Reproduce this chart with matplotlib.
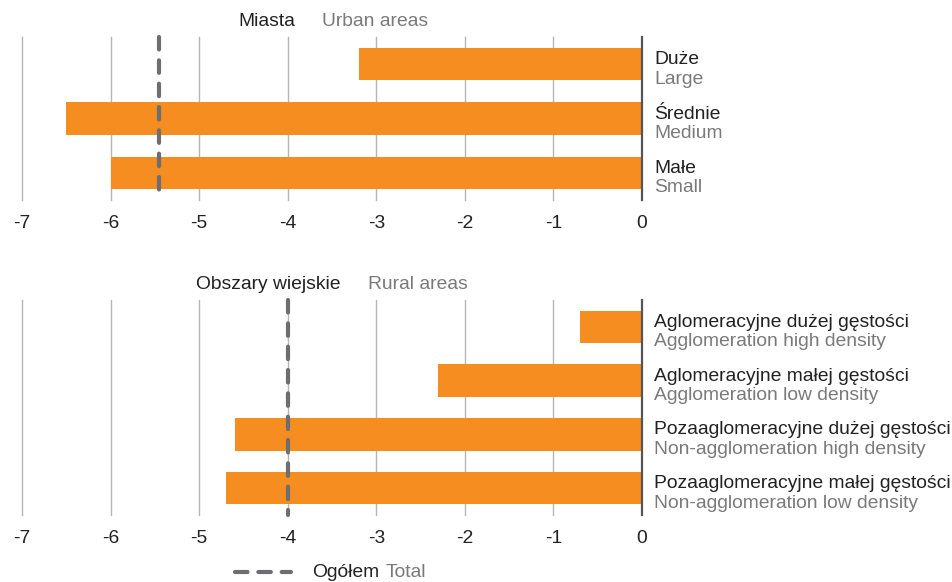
import matplotlib
matplotlib.use("Agg")
import matplotlib.pyplot as plt
from matplotlib.lines import Line2D
from matplotlib.transforms import ScaledTranslation

plt.rcParams['font.family'] = ['Liberation Sans', 'DejaVu Sans']
plt.rcParams['axes.unicode_minus'] = False

# data
urban_pl = ["Duże", "Średnie", "Małe"]
urban_en = ["Large", "Medium", "Small"]
urban_vals = [-3.2, -6.5, -6.0]
urban_total = -5.45

rural_pl = ["Aglomeracyjne dużej gęstości", "Aglomeracyjne małej gęstości",
            "Pozaaglomeracyjne dużej gęstości", "Pozaaglomeracyjne małej gęstości"]
rural_en = ["Agglomeration high density", "Agglomeration low density",
            "Non-agglomeration high density", "Non-agglomeration low density"]
rural_vals = [-0.7, -2.3, -4.6, -4.7]
rural_total = -4.0

xticks = [-7, -6, -5, -4, -3, -2, -1, 0]

ORANGE = '#f58d21'
DARK = '#222222'
GREY = '#7a7a7a'
DASH = '#6e6e70'
FS = 13.9
DASHES = (3.0, 2.6)

W, H = 953, 582
fig = plt.figure(figsize=(W / 100, H / 100), dpi=100)


def panel(rect, pl, en, vals, total, title_pl, title_en, t_right, t_left):
    ax = fig.add_axes(rect)
    n = len(vals)
    ypos = list(range(n))
    for x in xticks[:-1]:
        ax.axvline(x, color='#b5b5b5', lw=1, zorder=0, clip_on=False)
    ax.barh(ypos, vals, height=0.6, color=ORANGE, zorder=2)
    ax.axvline(0, color='#555555', lw=1.6, zorder=3, clip_on=False)
    # total line, drawn top to bottom so the dash pattern starts at the top
    ax.axvline(total, ymin=1, ymax=0, color=DASH, lw=3, dashes=DASHES,
               dash_capstyle='round', zorder=4, clip_on=False)
    ax.set_xlim(-7, 0)
    ax.set_ylim(n - 0.5, -0.5)
    ax.set_xticks(xticks)
    ax.set_xticklabels([str(t) for t in xticks])
    ax.tick_params(axis='x', length=0, pad=11, labelsize=FS, labelcolor=DARK)
    ax.set_yticks([])
    for s in ax.spines.values():
        s.set_visible(False)
    for i in ypos:
        ax.annotate(pl[i], xy=(1, i), xycoords=('axes fraction', 'data'),
                    xytext=(8.6, 0), textcoords='offset points',
                    ha='left', va='baseline', fontsize=FS, color=DARK,
                    annotation_clip=False)
        ax.annotate(en[i], xy=(1, i), xycoords=('axes fraction', 'data'),
                    xytext=(8.6, -14), textcoords='offset points',
                    ha='left', va='baseline', fontsize=FS, color=GREY,
                    annotation_clip=False)
    # titles above the panel
    tr = ax.transAxes + ScaledTranslation(0, 5 / 72, fig.dpi_scale_trans)
    ax.text(t_right, 1.0, title_pl, transform=tr, ha='right',
            va='bottom', fontsize=FS, color=DARK)
    ax.text(t_left, 1.0, title_en, transform=tr, ha='left',
            va='bottom', fontsize=FS, color=GREY)
    return ax


ax1 = panel([22 / W, 1 - 200 / H, 620 / W, 163 / H], urban_pl, urban_en,
            urban_vals, urban_total, "Miasta", "Urban areas", 0.440, 0.484)
ax2 = panel([22 / W, 1 - 515 / H, 620 / W, 215 / H], rural_pl, rural_en,
            rural_vals, rural_total, "Obszary wiejskie", "Rural areas", 0.5145, 0.558)

# legend
fig.add_artist(Line2D([235 / W, 291 / W], [1 - 572 / H, 1 - 572 / H],
                      color=DASH, lw=3, dashes=DASHES, dash_capstyle='round'))
fig.text(312 / W, 5 / H, "Ogółem", ha='left', va='baseline', fontsize=FS, color=DARK)
fig.text(386 / W, 5 / H, "Total", ha='left', va='baseline', fontsize=FS, color=GREY)

fig.savefig("out.png", dpi=100)
